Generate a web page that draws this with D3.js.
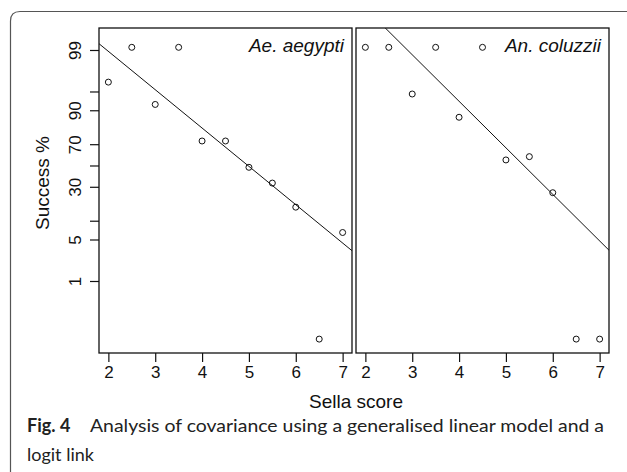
<!DOCTYPE html>
<html>
<head>
<meta charset="utf-8">
<script src="https://cdn.jsdelivr.net/npm/d3@7"></script>
<style>
  html, body { margin: 0; padding: 0; background: #fff; }
  svg { display: block; }
</style>
</head>
<body>
<svg id="chart" width="627" height="472"></svg>
<script>
// ---- data ----
const sellaScores = [2, 2.5, 3, 3.5, 4, 4.5, 5, 5.5, 6, 6.5, 7];
const aegyptiSuccess = [96.5, 99.1, 91.9, 99.1, 72.6, 72.6, 48.2, 33.2, 16.0, 0.1, 6.5];
const coluzziiSuccess = [99.1, 99.1, 94.5, 99.1, 87.2, 99.1, 55.5, 58.7, 25.3, 0.1, 0.1];
// fitted logit-link lines, endpoints (score, success %)
const aegyptiFit = [[1.8, 99.22], [7.2, 3.26]];
const coluzziiFit = [[2.4, 99.60], [7.2, 3.32]];
const xTicks = [2, 3, 4, 5, 6, 7];
const yTicks = [99, 95, 90, 70, 50, 30, 10, 5, 1];
const yTickLabels = [99, 90, 70, 30, 5, 1];
const panelTitles = ["Ae. aegypti", "An. coluzzii"];

(function () {
const svg = d3.select("#chart");
const logit = p => Math.log((p / 100) / (1 - p / 100));

const plotTop = 28, plotBottom = 353;
const panels = [
  { left: 99, right: 352, values: aegyptiSuccess, fit: aegyptiFit, title: panelTitles[0] },
  { left: 356, right: 609, values: coluzziiSuccess, fit: coluzziiFit, title: panelTitles[1] }
];

const yLin = d3.scaleLinear().domain([-7.46, 5.47]).range([plotBottom, plotTop]);
const yPos = p => yLin(logit(p));

// outer frame (rounded top-left corner)
svg.append("path")
  .attr("d", "M10.5,472 L10.5,21 Q10.5,11.5 20,11.5 L627,11.5")
  .attr("fill", "none").attr("stroke", "#555").attr("stroke-width", 1.2);

panels.forEach((p, i) => {
  const x = d3.scaleLinear().domain([1.8, 7.2]).range([p.left, p.right]);
  const g = svg.append("g");

  const clipId = "clip" + i;
  svg.append("clipPath").attr("id", clipId)
    .append("rect").attr("x", p.left).attr("y", plotTop)
    .attr("width", p.right - p.left).attr("height", plotBottom - plotTop);

  // fitted line
  g.append("path")
    .attr("clip-path", `url(#${clipId})`)
    .attr("d", d3.line().x(d => x(d[0])).y(d => yPos(d[1]))(p.fit))
    .attr("fill", "none").attr("stroke", "#111").attr("stroke-width", 1);

  // points
  g.selectAll("circle").data(sellaScores.map((s, k) => [s, p.values[k]]))
    .join("circle")
    .attr("cx", d => x(d[0])).attr("cy", d => yPos(d[1]))
    .attr("r", 3).attr("fill", "none").attr("stroke", "#111").attr("stroke-width", 1);

  // box
  g.append("rect")
    .attr("x", p.left).attr("y", plotTop)
    .attr("width", p.right - p.left).attr("height", plotBottom - plotTop)
    .attr("fill", "none").attr("stroke", "#111").attr("stroke-width", 1.3);

  // x axis
  const xa = svg.append("g").attr("transform", `translate(0,${plotBottom})`)
    .call(d3.axisBottom(x).tickValues(xTicks).tickSize(9).tickPadding(4).tickFormat(d3.format("d")));
  xa.select(".domain").remove();
  xa.selectAll("line").attr("stroke", "#111").attr("stroke-width", 1.2);
  xa.selectAll("text").attr("font-family", "Liberation Sans, Arial, sans-serif")
    .attr("font-size", 17).attr("fill", "#111");

  // title
  svg.append("text")
    .attr("x", p.right - 8).attr("y", 52)
    .attr("text-anchor", "end")
    .attr("font-family", "Liberation Sans, Arial, sans-serif")
    .attr("font-style", "italic").attr("font-size", 19).attr("fill", "#111")
    .text(p.title);
});

// y axis (left panel)
const ya = svg.append("g").attr("transform", `translate(${panels[0].left},0)`)
  .call(d3.axisLeft(yLin).tickValues(yTicks.map(logit)).tickSize(9)
    .tickFormat((d, i) => yTickLabels.includes(yTicks[i]) ? String(yTicks[i]) : ""));
ya.select(".domain").remove();
ya.selectAll("line").attr("stroke", "#111").attr("stroke-width", 1.2);
ya.selectAll("text")
  .attr("x", null).attr("dy", null).attr("y", null)
  .attr("text-anchor", "middle")
  .attr("transform", "translate(-18,0) rotate(-90)")
  .attr("font-family", "Liberation Sans, Arial, sans-serif")
  .attr("font-size", 17).attr("fill", "#111");

// axis titles
svg.append("text")
  .attr("transform", "translate(49,183) rotate(-90)")
  .attr("text-anchor", "middle")
  .attr("font-family", "Liberation Sans, Arial, sans-serif")
  .attr("font-size", 19).attr("fill", "#111")
  .text("Success %");

svg.append("text")
  .attr("x", 356).attr("y", 408)
  .attr("text-anchor", "middle")
  .attr("font-family", "Liberation Sans, Arial, sans-serif")
  .attr("font-size", 19).attr("fill", "#111")
  .text("Sella score");

// caption
const cap = svg.append("text")
  .attr("x", 27).attr("y", 432)
  .attr("font-family", "Lato, 'Noto Sans', sans-serif")
  .attr("font-size", 18).attr("fill", "#222");
cap.append("tspan").attr("font-weight", "bold").text("Fig. 4");
cap.append("tspan").attr("x", 90)
  .attr("textLength", 514).attr("lengthAdjust", "spacingAndGlyphs")
  .text("Analysis of covariance using a generalised linear model and a");
svg.append("text")
  .attr("x", 27).attr("y", 461)
  .attr("font-family", "Lato, 'Noto Sans', sans-serif")
  .attr("font-size", 18).attr("fill", "#222")
  .text("logit link");
})();
</script>
</body>
</html>
